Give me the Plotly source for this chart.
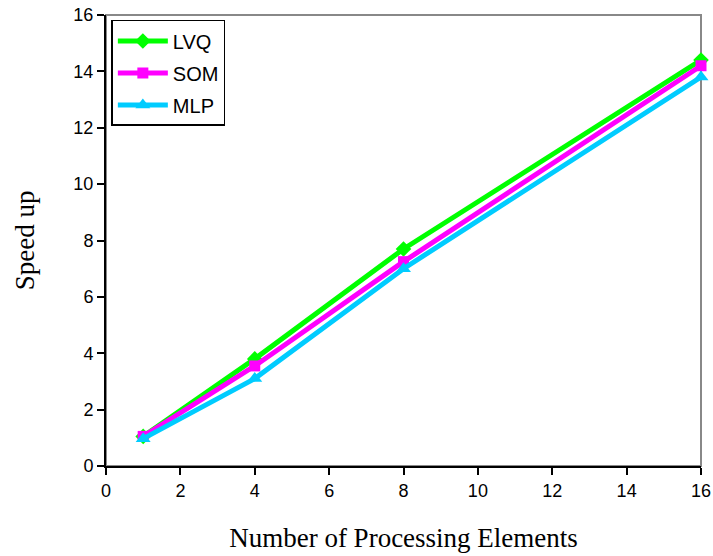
import plotly.graph_objs as go

# processing elements and measured speed up
elements = [1, 4, 8, 16]
lvq_speedup = [1.05, 3.8, 7.7, 14.4]
som_speedup = [1.05, 3.55, 7.25, 14.2]
mlp_speedup = [0.97, 3.1, 7.0, 13.8]

x_ticks = [0, 2, 4, 6, 8, 10, 12, 14, 16]
y_ticks = [0, 2, 4, 6, 8, 10, 12, 14, 16]

series = [
	("LVQ", lvq_speedup, "#00FF00", "diamond", 12),
	("SOM", som_speedup, "#FF00FF", "square", 11),
	("MLP", mlp_speedup, "#00CCFF", "triangle-up", 13),
]

plots = []
for name, values, colour, symbol, size in series:
	plots.append(go.Scatter(
		x=elements,
		y=values,
		mode='lines+markers',
		name=name,
		legendgroup=name,
		marker={'size': size, 'color': colour, 'symbol': symbol},
		line={'width': 5, 'color': colour},
		cliponaxis=False
	))

graph_layout = go.Layout(
	width=713,
	height=556,
	margin=dict(l=106, r=12, t=15, b=90),
	plot_bgcolor='white',
	paper_bgcolor='white',
	showlegend=True,
	legend=dict(
		x=0.009, y=0.989, xanchor='left', yanchor='top',
		bordercolor='black', borderwidth=1.5, bgcolor='white',
		font=dict(family='Arial, Liberation Sans', size=20, color='black'),
		tracegroupgap=3, itemwidth=50
	),
	xaxis=dict(
		title=dict(text='Number of Processing Elements',
			font=dict(family='Times New Roman, Liberation Serif', size=27, color='black'),
			standoff=29),
		automargin=False,
		range=[0, 16], tickvals=x_ticks, showgrid=False, zeroline=False,
		showline=True, linecolor='black', linewidth=2,
		ticks='outside', ticklen=7, tickwidth=2, tickcolor='black',
		ticklabeloverflow='allow',
		tickfont=dict(family='Arial, Liberation Sans', size=18, color='black')
	),
	yaxis=dict(
		title=dict(text='Speed up',
			font=dict(family='Times New Roman, Liberation Serif', size=27, color='black'),
			standoff=31),
		automargin=False,
		range=[0, 16], tickvals=y_ticks, showgrid=False, zeroline=False,
		showline=True, linecolor='black', linewidth=2,
		ticks='outside', ticklen=7, tickwidth=2, tickcolor='black',
		ticklabeloverflow='allow',
		tickfont=dict(family='Arial, Liberation Sans', size=18, color='black')
	),
	shapes=[dict(type='rect', xref='paper', yref='paper', x0=0, y0=0, x1=1, y1=1,
		line=dict(color='#888888', width=2), layer='below')]
)

fig = go.Figure(plots, graph_layout)
# drop the default page margin so the figure fills the window exactly
fig.write_html("out.html", config={'displayModeBar': False},
	post_script="document.body.style.margin='0';")
